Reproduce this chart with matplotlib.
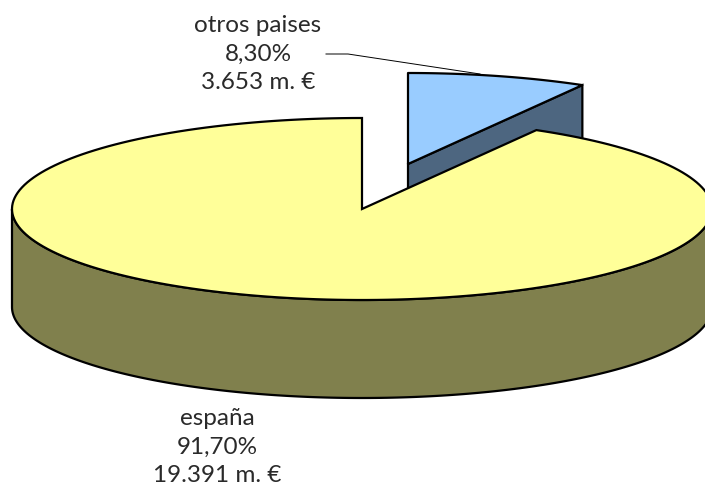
import numpy as np
import matplotlib
matplotlib.use('Agg')
import matplotlib.pyplot as plt
from matplotlib.patches import Polygon

# data
labels = ['españa', 'otros paises']
shares = [91.70, 8.30]
amounts = ['19.391 m. €', '3.653 m. €']
pct_labels = ['91,70%', '8,30%']

top_colors = ['#FFFF99', '#99CCFF']
side_colors = ['#80804D', '#4D6680']

plt.rcParams['font.family'] = ['Lato', 'DejaVu Sans']

W, H = 705, 488
fig = plt.figure(figsize=(W / 100, H / 100), dpi=100)
ax = fig.add_axes([0, 0, 1, 1])
ax.set_xlim(0, W)
ax.set_ylim(H, 0)
ax.axis('off')

# pie geometry in pixels
cx, cy = 362, 209
rx, ry = 350, 91
depth = 98
explode = (46, -45)
lw = 1.6


def rim(a0, a1, x0=cx, y0=cy):
    # a = degrees clockwise from 12 o'clock
    a = np.radians(np.linspace(a0, a1, 200))
    return np.column_stack([x0 + rx * np.sin(a), y0 - ry * np.cos(a)])


split = shares[1] / sum(shares) * 360

# exploded slice, drawn first so the big one sits over it
ex, ey = cx + explode[0], cy + explode[1]
arc = rim(0, split, ex, ey)
end = arc[-1]
side = [(ex, ey), tuple(end), (end[0], end[1] + depth), (ex, ey + depth)]
ax.add_patch(Polygon(side, closed=True, fc=side_colors[1], ec='black', lw=lw, zorder=1))
ax.add_patch(Polygon(np.vstack([[ex, ey], arc]), closed=True, fc=top_colors[1], ec='black',
                     lw=lw, joinstyle='round', zorder=2))

# big slice: front wall then top
front = rim(90, 270)
wall = np.vstack([front, (front + [0, depth])[::-1]])
ax.add_patch(Polygon(wall, closed=True, fc=side_colors[0], ec='black', lw=lw, zorder=3))
arc = rim(split, 360)
ax.add_patch(Polygon(np.vstack([[cx, cy], arc]), closed=True, fc=top_colors[0], ec='black',
                     lw=lw, joinstyle='miter', zorder=4))

# leader line
ax.plot([326, 348, 480], [54, 54, 74], color='black', lw=0.7, zorder=1.5)

# labels
ax.text(258, 54, f'{labels[1]}\n{pct_labels[1]}\n{amounts[1]}', ha='center', va='center',
        fontsize=17.5, color='#2a2a2a', linespacing=1.47, zorder=5)
ax.text(217, 447, f'{labels[0]}\n{pct_labels[0]}\n{amounts[0]}', ha='center', va='center',
        fontsize=17.5, color='#2a2a2a', linespacing=1.47, zorder=5, clip_on=False)

fig.savefig('out.png', dpi=100)
